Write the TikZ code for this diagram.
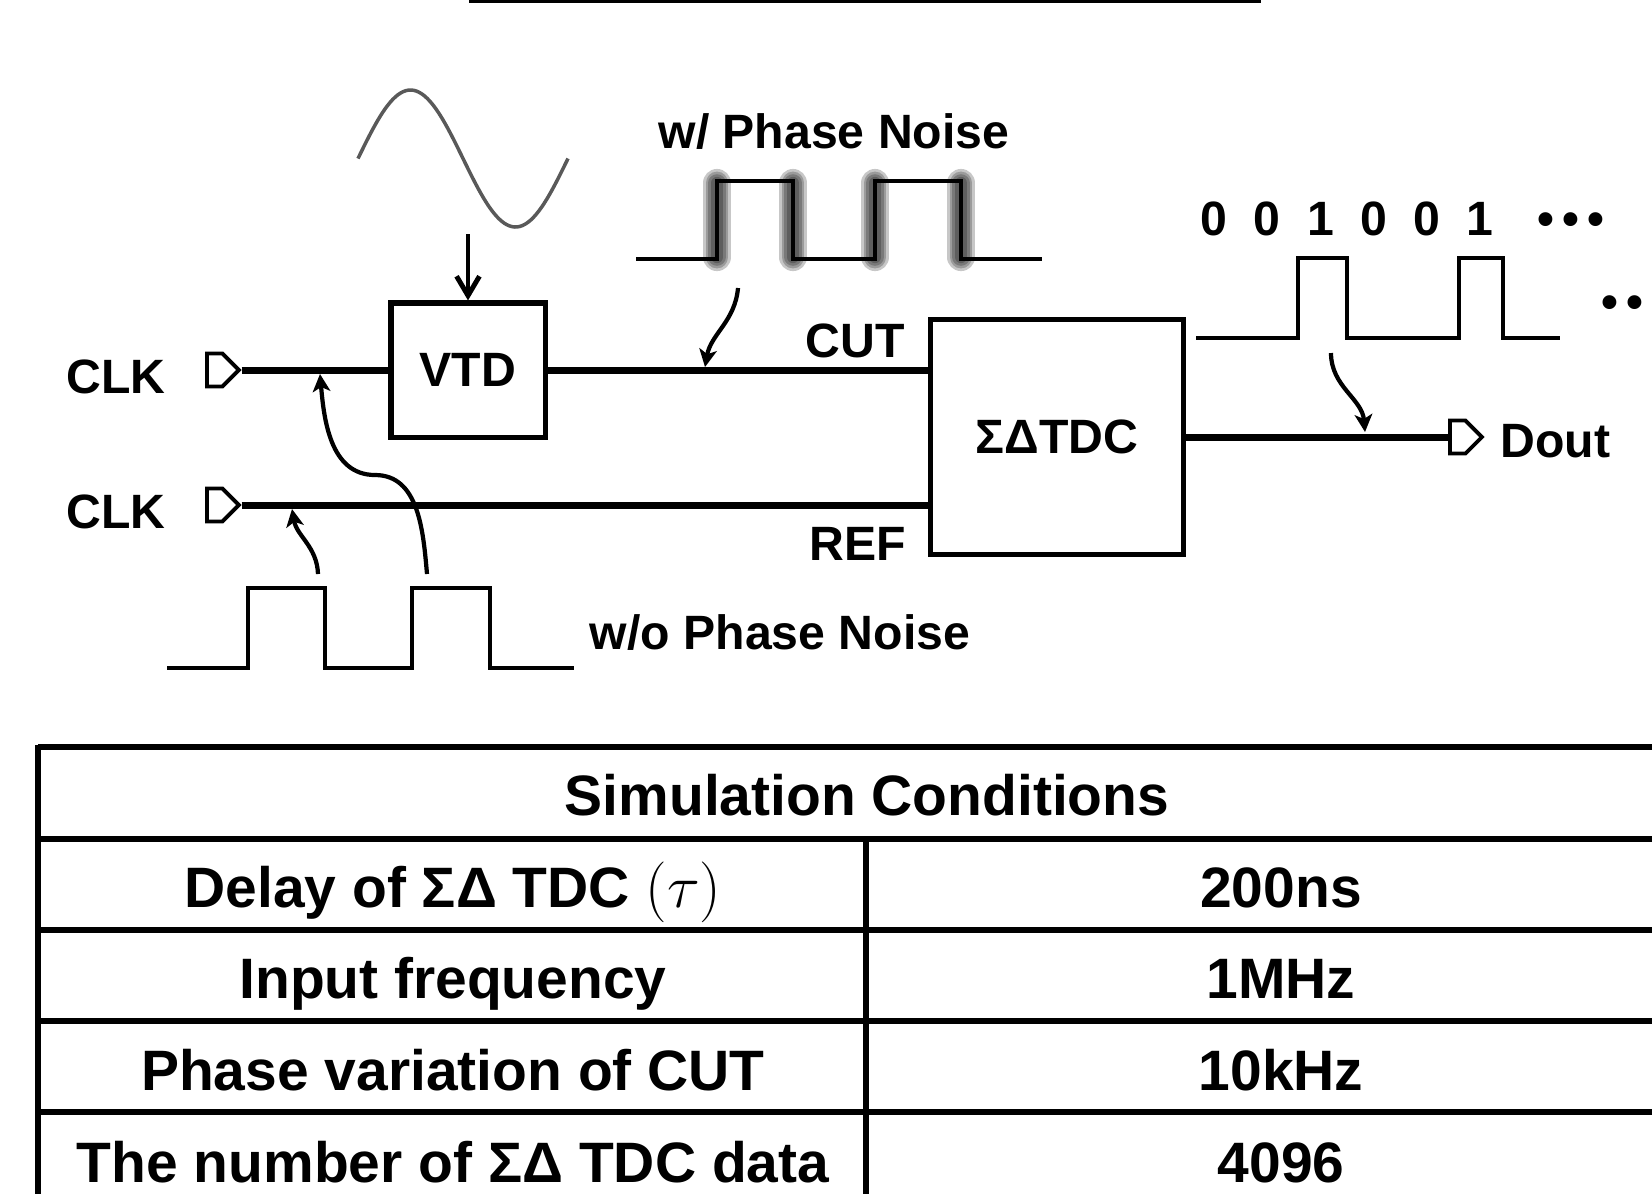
\documentclass[tikz,border=0pt]{standalone}
\usepackage{fontspec}
\setmainfont{Liberation Sans}
\usetikzlibrary{arrows.meta,shapes.symbols,calc}

\begin{document}
\begin{tikzpicture}[
    x=0.01cm, y=-0.01cm,
    block/.style={rectangle, draw=black, line width=1.45pt, inner sep=0pt, font=\fontsize{13.7}{16}\selectfont\bfseries},
    port/.style={signal, signal to=east, draw=black, line width=1.1pt, minimum width=0.32cm, minimum height=0.33cm, inner sep=0pt, anchor=west},
    wire/.style={line width=2pt},
    wave/.style={line width=1.4pt, line join=miter},
    blur/.style={draw=black, opacity=0.22, line cap=round},
    lbl/.style={font=\fontsize{13.7}{16}\selectfont\bfseries, inner sep=0pt, anchor=base},
    cell/.style={font=\fontsize{16.2}{19}\selectfont\bfseries, inner sep=0pt, anchor=base},
    curvearrow/.style={-{Stealth[length=5pt, width=5pt, inset=1.3pt]}, line width=1.2pt},
    tline/.style={line width=1.8pt}
]
\useasboundingbox (0,0) rectangle (1652,1193);

\draw[tline] (469,0) -- (1261,0);

\node[port] (clka) at (205,370) {};
\node[port] (clkb) at (205,505) {};
\node[lbl] (clkalbl) at (116,393) {CLK};
\node[lbl] (clkblbl) at (116,528) {CLK};

\node[block, minimum width=1.54cm, minimum height=1.34cm] (vtd) at (468,370) {VTD};
\node[block, minimum width=2.53cm, minimum height=2.35cm] (tdc) at (1057,437) {ΣΔTDC};
\node[port] (dout) at (1448,437) {};
\node[lbl, anchor=base west] (doutlbl) at (1500,457) {Dout};

\node[lbl] (cutlbl) at (855,357) {CUT};
\node[lbl] (reflbl) at (858,560) {REF};

\draw[wire] (clka) -- (vtd);
\draw[wire] (vtd) -- (vtd -| tdc.west);
\draw[wire] (clkb) -- (clkb -| tdc.west);
\draw[wire] (tdc) -- (dout);

\draw[line width=1pt, black!65] plot[domain=0:360, samples=80, smooth, variable=\t] ({358+0.58333*\t}, {158.5-68.5*sin(\t)});
\coordinate (sinefoot) at (468,234);
\draw[line width=1.4pt, -{Straight Barb[length=5.5pt, width=6.5pt]}] (sinefoot) -- (vtd);

\node[lbl] (wpn) at (834,148) {w/ Phase Noise};
\foreach \e in {717,793,875,961}
  \foreach \w in {8,6.5,5,3.5}
    \draw[blur, line width=\w pt] (\e,183) -- (\e,257);
\draw[wave] (636,259) -- (717,259) -- (717,181) -- (793,181) -- (793,259) -- (875,259) -- (875,181) -- (961,181) -- (961,259) -- (1042,259);
\coordinate (cuts) at (738,288);
\coordinate (cute) at (705,367);
\draw[curvearrow] (cuts) to[out=-95, in=80] (cute);

\foreach \b [count=\i] in {0,0,1,0,0,1}
  \node[lbl] (bit\i) at ({1214+53.2*(\i-1)},235) {\b};
\node[lbl] (morebits) at (1571,235) {\textbullet\,\textbullet\,\textbullet};
\node[lbl] (morewave) at (1635,318) {\textbullet\,\textbullet\,\textbullet};
\draw[wave] (1196,338) -- (1298,338) -- (1298,258) -- (1347,258) -- (1347,338) -- (1459,338) -- (1459,258) -- (1503,258) -- (1503,338) -- (1560,338);
\coordinate (outs) at (1331,353);
\coordinate (oute) at (1365,432);
\draw[curvearrow] (outs) to[out=-90, in=95] (oute);

\node[lbl] (wopn) at (780,649) {w/o Phase Noise};
\draw[wave] (167,668) -- (248,668) -- (248,588) -- (325,588) -- (325,668) -- (412,668) -- (412,588) -- (490,588) -- (490,668) -- (574,668);
\coordinate (refs) at (318,574);
\coordinate (refe) at (292,509);
\draw[curvearrow] (refs) to[out=92, in=-80] (refe);
\coordinate (vtds) at (427,574);
\coordinate (vtdm) at (375,475);
\coordinate (vtde) at (320,374);
\draw[curvearrow] (vtds) to[out=95, in=0] (vtdm) to[out=180, in=-85] (vtde);

\draw[tline] (38,747) -- (1660,747);
\foreach \y in {839,930,1021,1112}
  \draw[tline] (38,\y) -- (1660,\y);
\draw[line width=1.6pt] (38,745) -- (38,1200);
\draw[line width=1.6pt] (866,839) -- (866,1200);

\node[cell] (title) at (867,815) {Simulation Conditions};
\foreach \l/\v/\y [count=\i] in {Delay of ΣΔ TDC $(\tau)$/200ns/907, Input frequency/1MHz/998, Phase variation of CUT/10kHz/1090, The number of ΣΔ TDC data/4096/1182} {
  \node[cell] (param\i) at (453,\y) {\l};
  \node[cell] (value\i) at (1281,\y) {\v};
}

\end{tikzpicture}
\end{document}
